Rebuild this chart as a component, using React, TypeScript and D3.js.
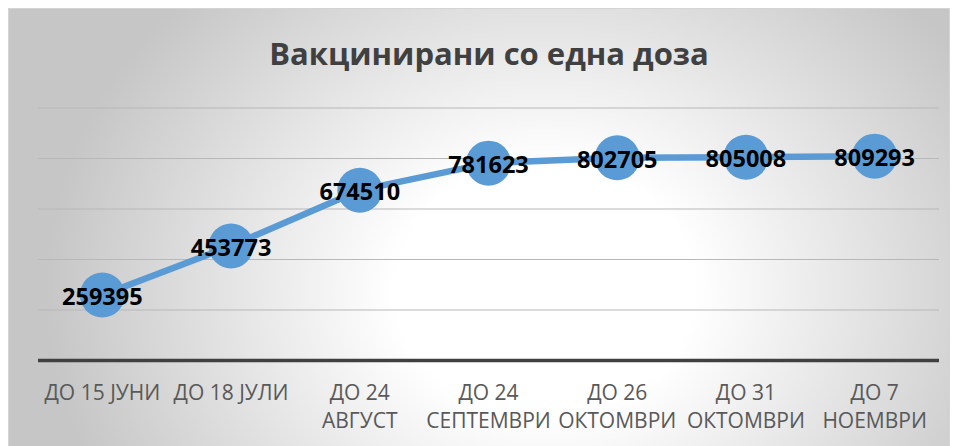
import React from "react";
import { scaleBand, scaleLinear, line } from "d3";

const categories = [
  "ДО 15 ЈУНИ",
  "ДО 18 ЈУЛИ",
  "ДО 24 АВГУСТ",
  "ДО 24 СЕПТЕМВРИ",
  "ДО 26 ОКТОМВРИ",
  "ДО 31 ОКТОМВРИ",
  "ДО 7 НОЕМВРИ",
];
const tickLabels = [
  ["ДО 15 ЈУНИ"],
  ["ДО 18 ЈУЛИ"],
  ["ДО 24", "АВГУСТ"],
  ["ДО 24", "СЕПТЕМВРИ"],
  ["ДО 26", "ОКТОМВРИ"],
  ["ДО 31", "ОКТОМВРИ"],
  ["ДО 7", "НОЕМВРИ"],
];
const vaccinated = [259395, 453773, 674510, 781623, 802705, 805008, 809293];
const gridTicks = [200000, 400000, 600000, 800000, 1000000];

const width = 955;
const height = 446;
const font = "'Open Sans', 'Noto Sans', sans-serif";

export default function App() {
  const x = scaleBand<string>().domain(categories).range([38, 939]);
  const y = scaleLinear().domain([0, 1000000]).range([360.5, 108]);
  const cx = (i: number) => (x(categories[i]) ?? 0) + x.bandwidth() / 2;

  const path = line<number>()
    .x((_, i) => cx(i))
    .y((v) => y(v))(vaccinated);

  return (
    <>
      <style>{`body{margin:0;overflow:hidden}`}</style>
      <svg width={width} height={height} style={{ display: "block" }}>
        <defs>
          {/* elliptical Excel-like radial fill, light in the lower middle */}
          <radialGradient
            id="bg"
            gradientUnits="userSpaceOnUse"
            cx={0}
            cy={0}
            r={1}
            gradientTransform="translate(545,290) scale(500,420)"
          >
            <stop offset="0" stopColor="#ffffff" />
            <stop offset="0.3" stopColor="#ffffff" />
            <stop offset="1" stopColor="#c6c6c6" />
          </radialGradient>
        </defs>
        <rect x={0} y={0} width={width} height={height} fill="#fff" />
        <rect
          x={8.5}
          y={8.5}
          width={941}
          height={445}
          fill="url(#bg)"
          stroke="#d4d4d4"
        />

        <text
          x={489}
          y={65}
          textAnchor="middle"
          fontFamily={font}
          fontWeight="bold"
          fontSize={31}
          fill="#404040"
        >
          Вакцинирани со една доза
        </text>

        {gridTicks.map((t) => (
          <line
            key={t}
            x1={38}
            x2={939}
            y1={y(t)}
            y2={y(t)}
            stroke="#b8b8b8"
            strokeWidth={1.2}
          />
        ))}
        <line x1={38} x2={939} y1={y(0)} y2={y(0)} stroke="#404040" strokeWidth={3.5} />

        {tickLabels.map((lines, i) => (
          <text
            key={i}
            x={cx(i)}
            y={400}
            textAnchor="middle"
            fontFamily={font}
            fontSize={21}
            fill="#595959"
          >
            {lines.map((l, j) => (
              <tspan key={j} x={cx(i)} dy={j === 0 ? 0 : 28}>
                {l}
              </tspan>
            ))}
          </text>
        ))}

        <path d={path ?? ""} fill="none" stroke="#5B9BD5" strokeWidth={6.5} strokeLinejoin="round" />
        {vaccinated.map((v, i) => (
          <circle key={i} cx={cx(i)} cy={y(v)} r={22.5} fill="#5B9BD5" />
        ))}
        {vaccinated.map((v, i) => (
          <text
            key={i}
            x={cx(i)}
            y={y(v) + 1}
            textAnchor="middle"
            dominantBaseline="central"
            fontFamily={font}
            fontWeight="bold"
            fontSize={23.5}
            fill="#000"
          >
            {v}
          </text>
        ))}
      </svg>
    </>
  );
}
